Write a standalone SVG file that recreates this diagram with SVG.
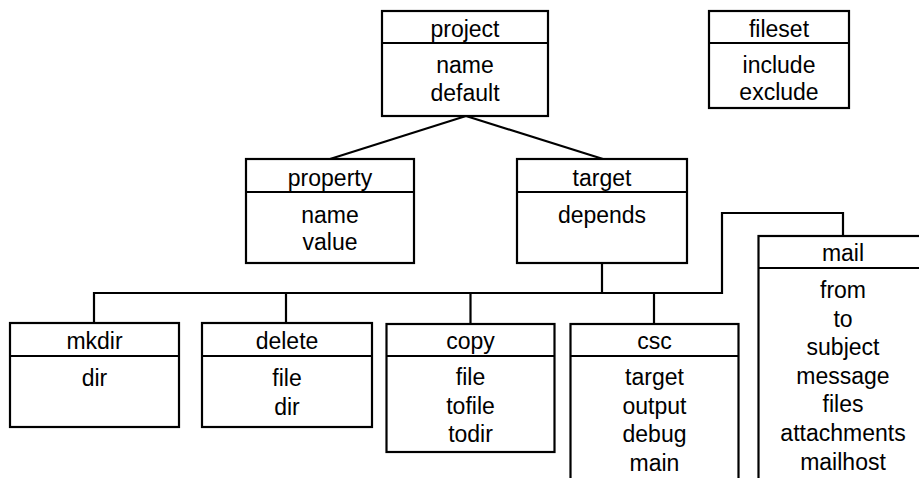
<svg xmlns="http://www.w3.org/2000/svg" width="919" height="478" viewBox="0 0 919 478">
  <style>
    .box { fill: #ffffff; stroke: #000000; stroke-width: 2.2; }
    .sep { stroke: #000000; stroke-width: 2.2; }
    .wire { fill: none; stroke: #000000; stroke-width: 2.2; stroke-linejoin: miter; }
    text { font-family: "Liberation Sans", Arial, sans-serif; font-size: 23px; fill: #000000; text-anchor: middle; }
  </style>
  <rect width="919" height="478" fill="#ffffff"/>

  <!-- connectors -->
  <g id="connectors">
    <line class="wire" x1="466" y1="116" x2="330" y2="159"/>
    <line class="wire" x1="466" y1="116" x2="603" y2="159"/>
    <path class="wire" d="M602 263 V293 M94 323 V293 H722 V213 H843 V236 M286 293 V323 M470.5 293 V324 M654 293 V324"/>
  </g>

  <!-- element nodes -->
  <g id="project">
    <rect class="box" x="382" y="11" width="166" height="105"/>
    <line class="sep" x1="382" y1="43" x2="548" y2="43"/>
    <text x="465" y="37">project</text>
    <text x="465" y="73">name</text>
    <text x="465" y="101">default</text>
  </g>

  <g id="fileset">
    <rect class="box" x="709" y="11" width="140" height="97"/>
    <line class="sep" x1="709" y1="43" x2="849" y2="43"/>
    <text x="779" y="37">fileset</text>
    <text x="779" y="73">include</text>
    <text x="779" y="100">exclude</text>
  </g>

  <g id="property">
    <rect class="box" x="246" y="159" width="168" height="104"/>
    <line class="sep" x1="246" y1="192" x2="414" y2="192"/>
    <text x="330" y="186">property</text>
    <text x="330" y="223">name</text>
    <text x="330" y="250">value</text>
  </g>

  <g id="target">
    <rect class="box" x="517" y="159" width="170" height="104"/>
    <line class="sep" x1="517" y1="192" x2="687" y2="192"/>
    <text x="602" y="186">target</text>
    <text x="602" y="223">depends</text>
  </g>

  <g id="mkdir">
    <rect class="box" x="10" y="323" width="169" height="104"/>
    <line class="sep" x1="10" y1="356" x2="179" y2="356"/>
    <text x="94.5" y="349">mkdir</text>
    <text x="94.5" y="386">dir</text>
  </g>

  <g id="delete">
    <rect class="box" x="202" y="323" width="170" height="104"/>
    <line class="sep" x1="202" y1="356" x2="372" y2="356"/>
    <text x="287" y="349">delete</text>
    <text x="287" y="386">file</text>
    <text x="287" y="415">dir</text>
  </g>

  <g id="copy">
    <rect class="box" x="386.5" y="324" width="168" height="128"/>
    <line class="sep" x1="386.5" y1="356" x2="554.5" y2="356"/>
    <text x="470.5" y="349">copy</text>
    <text x="470.5" y="385">file</text>
    <text x="470.5" y="413.5">tofile</text>
    <text x="470.5" y="442">todir</text>
  </g>

  <g id="csc">
    <rect class="box" x="570.5" y="324" width="168" height="180"/>
    <line class="sep" x1="570.5" y1="356" x2="738.5" y2="356"/>
    <text x="654.5" y="349">csc</text>
    <text x="654.5" y="385">target</text>
    <text x="654.5" y="413.5">output</text>
    <text x="654.5" y="442">debug</text>
    <text x="654.5" y="470.5">main</text>
  </g>

  <g id="mail">
    <rect class="box" x="758.5" y="236" width="168" height="268"/>
    <line class="sep" x1="758.5" y1="268" x2="926.5" y2="268"/>
    <text x="843" y="261">mail</text>
    <text x="843" y="298">from</text>
    <text x="843" y="326.5">to</text>
    <text x="843" y="355">subject</text>
    <text x="843" y="383.5">message</text>
    <text x="843" y="412">files</text>
    <text x="843" y="440.5">attachments</text>
    <text x="843" y="469.5">mailhost</text>
  </g>
</svg>
